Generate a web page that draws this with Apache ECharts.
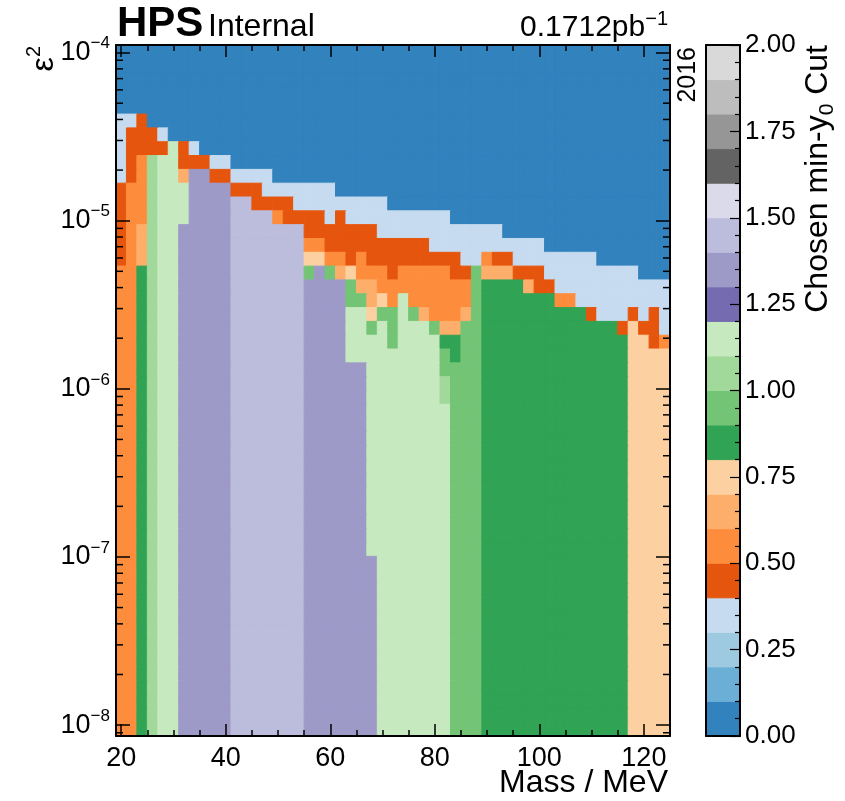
<!DOCTYPE html>
<html>
<head>
<meta charset="utf-8">
<title>HPS chosen min-y0 cut</title>
<script src="https://cdn.jsdelivr.net/npm/echarts@6/dist/echarts.min.js"></script>
<style>
  html, body { margin: 0; padding: 0; background: #fff; }
  #chart { width: 845px; height: 801px; }
</style>
</head>
<body>
<div id="chart"></div>
<script>
// mass bin centres in MeV (bins are 2 MeV wide)
const massBins = [20, 22, 24, 26, 28, 30, 32, 34, 36, 38, 40, 42, 44, 46, 48, 50, 52, 54,
  56, 58, 60, 62, 64, 66, 68, 70, 72, 74, 76, 78, 80, 82, 84, 86, 88, 90, 92, 94, 96, 98,
  100, 102, 104, 106, 108, 110, 112, 114, 116, 118, 120, 122, 124];
const massBinWidth = 2;

// eps^2 binning: 50 equal bins in log10
const logEpsMin = -8.065;
const logEpsMax = -3.955;
const nEpsBins = 50;

// colour of each 0.1 wide slice of the cut value, 0.0 -> 2.0
const palette = ['#3182bd', '#6baed6', '#9ecae1', '#c6dbef', '#e6550d', '#fd8d3c', '#fdae6b', '#fdd0a2',
  '#31a354', '#74c476', '#a1d99b', '#c7e9c0', '#756bb1', '#9e9ac8', '#bcbddc', '#dadaeb',
  '#636363', '#969696', '#bdbdbd', '#d9d9d9'];

// chosen cut per cell, as the palette slice (base 20 digit), top eps^2 row first,
// one character per mass bin (spaces only group the columns by ten)
const cutRows = [
  '0000000000 0000000000 0000000000 0000000000 0000000000 000',
  '0000000000 0000000000 0000000000 0000000000 0000000000 000',
  '0000000000 0000000000 0000000000 0000000000 0000000000 000',
  '0000000000 0000000000 0000000000 0000000000 0000000000 000',
  '0000000000 0000000000 0000000000 0000000000 0000000000 000',
  '3340000000 0000000000 0000000000 0000000000 0000000000 000',
  '3444300000 0000000000 0000000000 0000000000 0000000000 000',
  '34444b4300 0000000000 0000000000 0000000000 0000000000 000',
  '345abb4443 3000000000 0000000000 0000000000 0000000000 000',
  '345abb6dd4 4333300000 0000000000 0000000000 0000000000 000',
  '455abbbddd d444333333 3000000000 0000000000 0000000000 000',
  '455abbbddd dee4444333 3333330000 0000000000 0000000000 000',
  '455abbbddd deeee54444 3433333333 3300000000 0000000000 000',
  '456abbdddd deeeeeee44 4444433333 3333333000 0000000000 000',
  '456abbdddd deeeeeee55 4444444444 3333333333 3000000000 000',
  '456abbdddd deeeeeee77 5545444444 4443354433 3333330000 000',
  '558abbdddd deeeeeee9d 9675554555 5544966644 4333333333 000',
  '558abbdddd deeeeeeedd dd96655555 5555988886 4433333333 333',
  '558abbdddd deeeeeeedd dd99675b55 5555988888 8855333333 333',
  '558abbdddd deeeeeeedd ddbb799b96 5556988888 8888843334 343',
  '558abbdddd deeeeeeedd ddbb9b9bbb 9669988888 8888888847 443',
  '558abbdddd deeeeeeedd ddbbbb9bbb b889988888 8888888887 745',
  '558abbdddd deeeeeeedd ddbbbbbbbb b989988888 8888888887 777',
  '558abbdddd deeeeeeedd ddddbbbbbb b999988888 8888888887 777',
  '558abbdddd deeeeeeedd ddddbbbbbb ba99988888 8888888887 777',
  '558abbdddd deeeeeeedd ddddbbbbbb ba99988888 8888888887 777',
  '558abbdddd deeeeeeedd ddddbbbbbb bb99988888 8888888887 777',
  '558abbdddd deeeeeeedd ddddbbbbbb bb99988888 8888888887 777',
  '558abbdddd deeeeeeedd ddddbbbbbb bb99988888 8888888887 777',
  '558abbdddd deeeeeeedd ddddbbbbbb bb99988888 8888888887 777',
  '558abbdddd deeeeeeedd ddddbbbbbb bb99988888 8888888887 777',
  '558abbdddd deeeeeeedd ddddbbbbbb bb99988888 8888888887 777',
  '558abbdddd deeeeeeedd ddddbbbbbb bb99988888 8888888887 777',
  '558abbdddd deeeeeeedd ddddbbbbbb bb99988888 8888888887 777',
  '558abbdddd deeeeeeedd ddddbbbbbb bb99988888 8888888887 777',
  '558abbdddd deeeeeeedd ddddbbbbbb bb99988888 8888888887 777',
  '558abbdddd deeeeeeedd ddddbbbbbb bb99988888 8888888887 777',
  '558abbdddd deeeeeeedd dddddbbbbb bb99988888 8888888887 777',
  '558abbdddd deeeeeeedd dddddbbbbb bb99988888 8888888887 777',
  '558abbdddd deeeeeeedd dddddbbbbb bb99988888 8888888887 777',
  '558abbdddd deeeeeeedd dddddbbbbb bb99988888 8888888887 777',
  '558abbdddd deeeeeeedd dddddbbbbb bb99988888 8888888887 777',
  '558abbdddd deeeeeeedd dddddbbbbb bb99988888 8888888887 777',
  '558abbdddd deeeeeeedd dddddbbbbb bb99988888 8888888887 777',
  '558abbdddd deeeeeeedd dddddbbbbb bb99988888 8888888887 777',
  '558abbdddd deeeeeeedd dddddbbbbb bb99988888 8888888887 777',
  '558abbdddd deeeeeeedd dddddbbbbb bb99988888 8888888887 777',
  '558abbdddd deeeeeeedd dddddbbbbb bb99988888 8888888887 777',
  '558abbdddd deeeeeeedd dddddbbbbb bb99988888 8888888887 777',
  '558abbdddd deeeeeeedd dddddbbbbb bb99988888 8888888887 777'
];

const FONT = '"Liberation Sans", Arial, sans-serif';
const epsMin = Math.pow(10, logEpsMin);
const epsMax = Math.pow(10, logEpsMax);
const epsStep = (logEpsMax - logEpsMin) / nEpsBins;

// one item per cell: [mass, eps2 low, eps2 high, cut]
const cells = [];
cutRows.forEach(function (line, t) {
  const row = line.replace(/ /g, '');
  if (row.length !== massBins.length) throw new Error('row ' + t + ' has ' + row.length + ' cells');
  const r = nEpsBins - 1 - t;
  const lo = Math.pow(10, logEpsMin + r * epsStep);
  const hi = Math.pow(10, logEpsMin + (r + 1) * epsStep);
  massBins.forEach(function (m, i) {
    cells.push([m, lo, hi, (parseInt(row[i], 20) + 0.5) / 10]);
  });
});
if (cutRows.length !== nEpsBins) throw new Error('expected ' + nEpsBins + ' rows');

// colour bar swatches: [x, cut low, cut high, slice]
const swatches = palette.map(function (c, i) { return [0, i / 10, (i + 1) / 10, i]; });

function renderCell(params, api) {
  const m = api.value(0);
  const a = api.coord([m - massBinWidth / 2, api.value(2)]);
  const b = api.coord([m + massBinWidth / 2, api.value(1)]);
  const color = palette[Math.min(19, Math.floor(api.value(3) * 10))];
  return {
    type: 'rect',
    shape: { x: a[0], y: a[1], width: b[0] - a[0], height: b[1] - a[1] },
    style: { fill: color, stroke: color, lineWidth: 1 }
  };
}

function renderSwatch(params, api) {
  const a = api.coord([0, api.value(2)]);
  const b = api.coord([1, api.value(1)]);
  const color = palette[api.value(3)];
  return {
    type: 'rect',
    shape: { x: a[0], y: a[1], width: b[0] - a[0], height: b[1] - a[1] },
    style: { fill: color, stroke: color, lineWidth: 1 }
  };
}

const frame = { onZero: false, lineStyle: { color: '#000', width: 2 } };
const tickStyle = { color: '#000', width: 1.5 };

function massAxis(pos, showLabel) {
  return {
    gridIndex: 0, type: 'value', min: 19, max: 125, position: pos, z: 5,
    axisLine: frame,
    axisTick: { inside: true, length: 12, lineStyle: tickStyle },
    minorTick: { show: true, splitNumber: 4, length: 6, lineStyle: tickStyle },
    axisLabel: {
      show: showLabel, fontSize: 27, color: '#000', margin: 9, fontFamily: FONT,
      formatter: function (v) { return v % 10 === 0 ? String(v) : ''; }
    },
    splitLine: { show: false }
  };
}

function epsAxis(pos, showLabel) {
  return {
    gridIndex: 0, type: 'log', logBase: 10, min: epsMin, max: epsMax, position: pos, z: 5,
    axisLine: frame,
    axisTick: { inside: true, length: 14, lineStyle: tickStyle },
    axisLabel: {
      show: showLabel, margin: 6, color: '#000', fontFamily: FONT,
      formatter: function (v) {
        const e = Math.log10(v);
        if (Math.abs(e - Math.round(e)) > 0.01) return '';
        return '{b|10}{s|\u2212' + Math.abs(Math.round(e)) + '}';
      },
      rich: {
        b: { fontSize: 27, lineHeight: 35, fontFamily: FONT, color: '#000' },
        s: { fontSize: 17, lineHeight: 17, verticalAlign: 'top', fontFamily: FONT, color: '#000' }
      }
    },
    splitLine: { show: false }
  };
}

function barFrame(pos, isX) {
  return {
    gridIndex: 1, type: 'value', position: pos, z: 5,
    min: 0, max: isX ? 1 : 2,
    axisLine: frame, axisTick: { show: false }, axisLabel: { show: false }, splitLine: { show: false }
  };
}

const titles = [
  { type: 'text', x: 117, y: 3, style: { text: 'HPS', font: 'bold 42px ' + FONT, fill: '#000', verticalAlign: 'top' } },
  { type: 'text', x: 208, y: 11, style: { text: 'Internal', font: '32px ' + FONT, fill: '#000', verticalAlign: 'top' } },
  { type: 'text', x: 668, y: 9, style: {
      text: '{n|0.1712pb}{s|\u22121}', align: 'right', verticalAlign: 'top',
      rich: {
        n: { fontSize: 30, lineHeight: 38, fontFamily: FONT, fill: '#000' },
        s: { fontSize: 20, lineHeight: 20, verticalAlign: 'top', fontFamily: FONT, fill: '#000' }
      } } },
  { type: 'text', x: 668, y: 767, style: { text: 'Mass / MeV', font: '32px ' + FONT, fill: '#000', align: 'right', verticalAlign: 'top' } },
  { type: 'text', x: 44, y: 46, rotation: Math.PI / 2, style: {
      text: '{e|\u03b5}{s|2}', align: 'right', verticalAlign: 'middle',
      rich: {
        e: { fontSize: 32, lineHeight: 40, fontFamily: FONT, fill: '#000' },
        s: { fontSize: 20, lineHeight: 20, verticalAlign: 'top', fontFamily: FONT, fill: '#000' }
      } } },
  { type: 'text', x: 688, y: 47, rotation: Math.PI / 2, style: { text: '2016', font: '25px ' + FONT, fill: '#000', align: 'right', verticalAlign: 'middle' } },
  { type: 'text', x: 818, y: 45, rotation: Math.PI / 2, style: {
      text: '{n|Chosen min-y}{d|0}{n| Cut}', align: 'right', verticalAlign: 'middle',
      rich: {
        n: { fontSize: 32, lineHeight: 40, fontFamily: FONT, fill: '#000' },
        d: { fontSize: 21, lineHeight: 21, verticalAlign: 'bottom', fontFamily: FONT, fill: '#000' }
      } } }
];

const option = {
  animation: false,
  backgroundColor: '#fff',
  textStyle: { fontFamily: FONT, color: '#000' },
  grid: [
    { left: 116, top: 45, width: 554, height: 691 },
    { left: 706, top: 45, width: 34, height: 691 }
  ],
  xAxis: [
    massAxis('bottom', true),
    massAxis('top', false),
    barFrame('bottom', true),
    barFrame('top', true)
  ],
  yAxis: [
    epsAxis('left', true),
    epsAxis('right', false),
    {
      gridIndex: 1, type: 'value', min: 0, max: 2, interval: 0.25, position: 'right', z: 5,
      axisLine: frame,
      axisTick: { inside: true, length: 10, lineStyle: { color: '#000', width: 1.2 } },
      minorTick: { show: true, splitNumber: 5, length: 5, lineStyle: { color: '#000', width: 1.2 } },
      axisLabel: { fontSize: 26, color: '#000', margin: 5, fontFamily: FONT,
        formatter: function (v) { return v.toFixed(2); } },
      splitLine: { show: false }
    },
    barFrame('left', false)
  ],
  series: [
    { type: 'custom', xAxisIndex: 0, yAxisIndex: 0, renderItem: renderCell, data: cells,
      encode: { x: 0, y: [1, 2] }, clip: true, z: 1, silent: true },
    { type: 'custom', xAxisIndex: 2, yAxisIndex: 2, renderItem: renderSwatch, data: swatches,
      encode: { x: 0, y: [1, 2] }, z: 1, silent: true }
  ],
  graphic: titles
};

const chart = echarts.init(document.getElementById('chart'), null, { renderer: 'canvas' });
chart.setOption(option);

// log axis minor ticks at 2..9 x 10^n, left and right edges of the plot
const xl = chart.convertToPixel({ xAxisIndex: 0 }, 19);
const xr = chart.convertToPixel({ xAxisIndex: 0 }, 125);
const minorTicks = [];
for (let e = -9; e <= -4; e++) {
  for (let k = 2; k <= 9; k++) {
    const v = k * Math.pow(10, e);
    if (v <= epsMin || v >= epsMax) continue;
    const py = chart.convertToPixel({ yAxisIndex: 0 }, v);
    minorTicks.push({ type: 'line', z: 100, shape: { x1: xl, y1: py, x2: xl + 7, y2: py }, style: { stroke: '#000', lineWidth: 1.5 } });
    minorTicks.push({ type: 'line', z: 100, shape: { x1: xr - 7, y1: py, x2: xr, y2: py }, style: { stroke: '#000', lineWidth: 1.5 } });
  }
}
chart.setOption({ graphic: titles.concat(minorTicks) });
</script>
</body>
</html>
